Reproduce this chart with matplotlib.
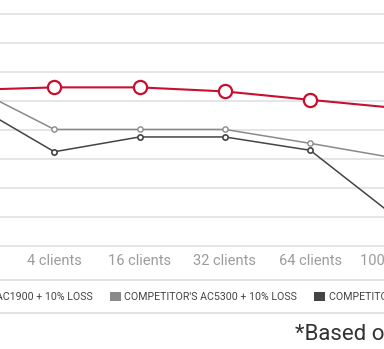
import matplotlib
matplotlib.use('Agg')
import matplotlib.pyplot as plt
from matplotlib.patches import Patch
from matplotlib.lines import Line2D

categories = ['2 clients', '4 clients', '16 clients', '32 clients', '64 clients', '100 clients']
archer = [538, 547, 547, 533, 504, 476]
comp_ac5300 = [552, 402, 402, 402, 354, 303]
comp_ac3200 = [497, 325, 376, 376, 330, 100]
series_names = ["ARCHER AC1900 + 10% LOSS",
                "COMPETITOR'S AC5300 + 10% LOSS",
                "COMPETITOR'S AC3200 + 10% LOSS"]

red = '#c8102e'
light = '#8a8a8a'
dark = '#444444'
gridc = '#e3e3e3'

plt.rcParams['font.family'] = ['Roboto', 'DejaVu Sans']

W, H = 384.0, 349.0
fig = plt.figure(figsize=(W/100, H/100), dpi=100)
# axes is wider than the figure: only a window of the full chart is shown
step = 85.3
left_px = -31 - step/2
ax = fig.add_axes((left_px/W, 99.0/H, step*6/W, 250.0/H))
x = range(len(categories))
ax.plot(x, comp_ac5300, color=light, lw=1.1, marker='o', ms=3.8,
        mfc='white', mec=light, mew=1.0, zorder=3)
ax.plot(x, comp_ac3200, color=dark, lw=1.1, marker='o', ms=3.8,
        mfc='white', mec=dark, mew=1.2, zorder=3)
ax.plot(x, archer, color=red, lw=1.5, marker='o', ms=9.5,
        mfc='white', mec=red, mew=1.6, zorder=4)

ax.set_xticks(list(x))
ax.set_xticklabels(categories, fontsize=10.5, color='#9c9c9c')
ax.set_yticks(range(0, 900, 100))
ax.set_xlim(-0.5, 5.5)
ax.set_ylim(-4/0.29, 246/0.29)
ax.yaxis.grid(True, color=gridc, lw=1.3)
ax.set_axisbelow(True)
ax.tick_params(axis='y', left=False, labelleft=False)
ax.tick_params(axis='x', length=0, pad=3)
for s in ax.spines.values():
    s.set_visible(False)

# legend strip
handles = [Patch(facecolor=c, edgecolor='none') for c in (red, light, dark)]
leg = fig.legend(handles, series_names, loc='center left', ncol=3,
                 bbox_to_anchor=(0, 52.0/H), frameon=False,
                 prop={'size': 7.7}, labelcolor='#444444',
                 handlelength=1.0, handleheight=1.0, handletextpad=0.35,
                 columnspacing=1.6, borderpad=0)
# shift so the second swatch starts at x=110px
fig.canvas.draw()
bx = leg.legend_handles[1].get_window_extent().x0
leg.set_bbox_to_anchor(((110 - bx)/W, 52.0/H))

for yy in (69.0/H, 36.0/H):
    fig.add_artist(Line2D([0, 1], [yy, yy], transform=fig.transFigure,
                          color='#dddddd', lw=1.2))

fig.text(295.0/W, 14.0/H, '*Based on', fontsize=16, color='#333333',
         ha='left', va='center')

fig.savefig('out.png', dpi=100)
